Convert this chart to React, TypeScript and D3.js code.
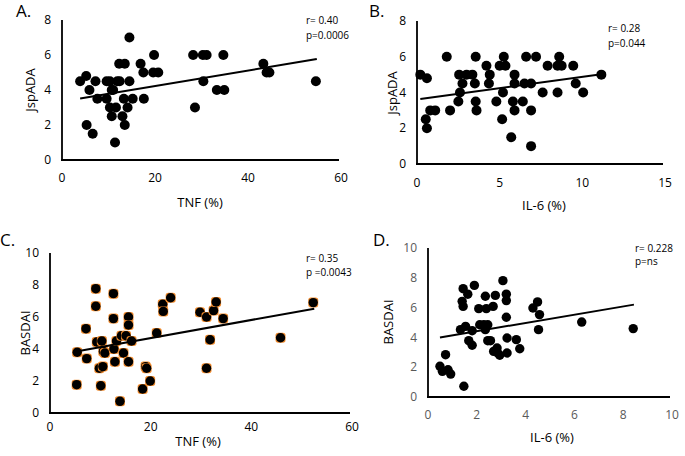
import React from "react";
import * as d3 from "d3";

// Panel A: TNF (%) vs JspADA
const tnfA = [3.9, 5.2, 5.9, 7.2, 7.6, 5.3, 6.6, 9.6, 9.6, 10.3, 10.7, 10.3, 11.0, 10.7, 11.6, 11.4, 11.9, 12.4, 12.3, 13.5, 13.0, 13.5, 13.3, 14.1, 14.5, 14.5, 15.2, 16.9, 17.5, 17.6, 19.8, 19.6, 20.7, 28.2, 28.6, 30.3, 31.1, 30.4, 33.3, 34.7, 34.9, 43.3, 44.0, 44.6, 54.6];
const jspA = [4.5, 4.8, 4.0, 4.5, 3.5, 2.0, 1.5, 4.5, 3.5, 4.5, 4.0, 3.0, 4.0, 2.5, 3.0, 1.0, 4.5, 4.5, 5.5, 5.5, 2.5, 2.0, 3.5, 3.0, 4.5, 7.0, 3.5, 5.5, 5.0, 3.5, 6.0, 5.0, 5.0, 6.0, 3.0, 6.0, 6.0, 4.5, 4.0, 6.0, 4.0, 5.5, 5.0, 5.0, 4.5];
const trendA = [[3.9, 3.52], [54.8, 5.77]];

// Panel B: IL-6 (%) vs JspADA
const il6B = [0.2, 0.6, 0.53, 0.6, 0.8, 1.1, 1.8, 2.0, 2.5, 2.6, 2.75, 2.55, 3.0, 3.35, 3.5, 3.55, 3.55, 3.6, 4.2, 4.4, 4.35, 4.8, 5.0, 5.25, 5.35, 5.2, 5.15, 5.7, 5.9, 5.9, 5.8, 5.9, 6.4, 6.5, 6.6, 6.9, 6.9, 6.9, 7.2, 7.6, 7.9, 8.5, 8.5, 8.6, 8.75, 9.45, 9.6, 10.05, 11.15];
const jspB = [5.0, 4.8, 2.5, 2.0, 3.0, 3.0, 6.0, 3.0, 3.5, 4.0, 4.5, 5.0, 5.0, 5.0, 4.5, 6.0, 3.5, 3.0, 5.5, 5.0, 4.5, 3.5, 5.5, 6.0, 5.5, 4.0, 2.5, 1.5, 5.0, 4.5, 3.5, 3.0, 3.5, 4.5, 6.0, 1.0, 3.0, 4.5, 6.0, 4.0, 5.5, 4.0, 5.5, 6.0, 5.5, 5.5, 4.5, 4.0, 5.0];
const trendB = [[0.2, 3.63], [11.15, 5.02]];

// Panel C: TNF (%) vs BASDAI
const tnfC = [5.4, 5.3, 7.15, 7.3, 9.1, 9.1, 9.3, 9.8, 10.1, 10.3, 10.6, 10.5, 10.9, 12.6, 12.6, 12.7, 12.9, 13.2, 13.9, 14.2, 14.6, 15.1, 15.6, 15.6, 15.6, 16.2, 18.4, 19.0, 19.2, 19.9, 21.2, 22.4, 22.5, 23.97, 29.8, 31.1, 31.1, 31.8, 32.5, 33.0, 34.4, 45.8, 52.3];
const basC = [3.8, 1.77, 5.27, 3.4, 7.77, 6.67, 4.44, 2.8, 1.7, 4.5, 3.85, 2.9, 3.75, 7.46, 5.9, 4.0, 3.2, 4.5, 0.73, 4.83, 3.75, 4.83, 6.0, 5.5, 3.2, 4.5, 1.5, 2.9, 2.8, 2.0, 5.0, 6.8, 6.35, 7.2, 6.3, 6.0, 2.8, 4.58, 6.4, 6.94, 5.9, 4.7, 6.9];
const trendC = [[5.2, 3.85], [52.5, 6.52]];

// Panel D: IL-6 (%) vs BASDAI
const il6D = [0.49, 0.59, 0.72, 0.82, 0.93, 1.33, 1.40, 1.44, 1.44, 1.47, 1.54, 1.63, 1.67, 1.81, 1.81, 1.90, 2.08, 2.12, 2.29, 2.35, 2.39, 2.35, 2.45, 2.45, 2.56, 2.67, 2.69, 2.76, 2.83, 2.86, 2.94, 3.07, 3.21, 3.21, 3.21, 3.24, 3.24, 3.62, 3.76, 4.30, 4.49, 4.57, 4.53, 6.30, 8.41];
const basD = [2.06, 1.72, 2.84, 1.83, 1.54, 4.52, 6.42, 7.27, 6.08, 0.72, 4.74, 6.9, 3.78, 3.47, 4.45, 7.49, 5.93, 4.85, 4.85, 4.52, 5.93, 6.76, 4.85, 3.78, 3.78, 6.08, 3.06, 6.82, 3.29, 2.95, 2.8, 7.81, 6.9, 6.47, 5.35, 2.95, 3.96, 3.85, 3.24, 5.97, 6.38, 5.53, 4.52, 5.03, 4.59];
const trendD = [[0.49, 4.0], [8.44, 6.2]];

const ticksA_x = [0, 20, 40, 60];
const ticksA_y = [0, 2, 4, 6, 8];
const ticksB_x = [0, 5, 10, 15];
const ticksB_y = [0, 2, 4, 6, 8];
const ticksC_x = [0, 20, 40, 60];
const ticksC_y = [0, 2, 4, 6, 8, 10];
const ticksD_x = [0, 2, 4, 6, 8, 10];
const ticksD_y = [0, 2, 4, 6, 8, 10];

const FONT = "'Open Sans', 'Liberation Sans', sans-serif";

type PanelProps = {
  xs: number[]; ys: number[]; trend: number[][];
  xDom: [number, number]; yDom: [number, number];
  xR: [number, number]; yR: [number, number];
  xTicks: number[]; yTicks: number[];
  xTickY: number; tickColor: string;
  label: string; labelPos: [number, number];
  xTitle: string; xTitlePos: [number, number];
  yTitle: string; yTitlePos: [number, number];
  ann: string[]; annPos: [number, number]; annGap: number;
  orange?: boolean; r: number;
};

function Panel(p: PanelProps) {
  const x = d3.scaleLinear().domain(p.xDom).range(p.xR);
  const y = d3.scaleLinear().domain(p.yDom).range(p.yR);
  const line = d3.line<number[]>().x((d) => x(d[0])).y((d) => y(d[1]));
  const x0 = x(p.xDom[0]);
  const y0 = y(p.yDom[0]);
  return (
    <g fontFamily={FONT}>
      <text x={p.labelPos[0]} y={p.labelPos[1]} fontSize={17} fill="#000">{p.label}</text>
      {p.yTicks.map((t) => (
        <text key={"y" + t} x={x0 - 11} y={y(t)} dy="0.35em" textAnchor="end" fontSize={12} fill={p.tickColor}>{t}</text>
      ))}
      {p.xTicks.map((t) => (
        <text key={"x" + t} x={x(t)} y={p.xTickY} dy="0.35em" textAnchor="middle" fontSize={12} fill={p.tickColor}>{t}</text>
      ))}
      <text x={p.xTitlePos[0]} y={p.xTitlePos[1]} dy="0.35em" textAnchor="middle" fontSize={13} fill="#000">{p.xTitle}</text>
      <text transform={`translate(${p.yTitlePos[0]},${p.yTitlePos[1]}) rotate(-90)`} dy="0.35em" textAnchor="middle" fontSize={13} fill="#000">{p.yTitle}</text>
      {p.ann.map((a, i) => (
        <text key={a} x={p.annPos[0]} y={p.annPos[1] + i * p.annGap} dy="0.35em" fontSize={10} fill="#000">{a}</text>
      ))}
      {p.xs.map((v, i) => (
        <g key={i}>
          {p.orange && (
            <rect x={x(v) - p.r} y={y(p.ys[i]) - p.r} width={p.r * 2} height={p.r * 2} rx={p.r * 0.55} fill="#f08a2c" />
          )}
          <circle cx={x(v)} cy={y(p.ys[i])} r={p.orange ? p.r - 0.3 : p.r} fill="#000" />
        </g>
      ))}
      <path d={line(p.trend) || ""} stroke="#000" strokeWidth={2} fill="none" />
      <line x1={x0} x2={x0} y1={p.yR[1]} y2={y0 + 1} stroke="#000" strokeWidth={1.8} />
      <line x1={x0 - 1} x2={p.xR[1] - 2} y1={y0} y2={y0} stroke="#000" strokeWidth={1.8} />
    </g>
  );
}

export default function App() {
  return (
    <svg width={685} height={456} style={{ position: "absolute", left: 0, top: 0, background: "#fff" }}>
      <rect width={685} height={456} fill="#fff" />
      <Panel xs={tnfA} ys={jspA} trend={trendA} xDom={[0, 60]} yDom={[0, 8]} xR={[62, 341]} yR={[160, 20]}
        xTicks={ticksA_x} yTicks={ticksA_y} xTickY={178} tickColor="#000"
        label="A." labelPos={[16, 17]} xTitle="TNF (%)" xTitlePos={[200, 202]} yTitle="JspADA" yTitlePos={[30, 90]}
        ann={["r= 0.40", "p=0.0006"]} annPos={[306, 20]} annGap={15} r={5} />
      <Panel xs={il6B} ys={jspB} trend={trendB} xDom={[0, 15]} yDom={[0, 8]} xR={[417, 665]} yR={[164, 21]}
        xTicks={ticksB_x} yTicks={ticksB_y} xTickY={183} tickColor="#000"
        label="B." labelPos={[369, 17]} xTitle="IL-6 (%)" xTitlePos={[544, 205]} yTitle="JspADA" yTitlePos={[392, 93]}
        ann={["r= 0.28", "p=0.044"]} annPos={[608, 28]} annGap={15} r={5} />
      <Panel xs={tnfC} ys={basC} trend={trendC} xDom={[0, 60]} yDom={[0, 10]} xR={[50, 352]} yR={[413, 253]}
        xTicks={ticksC_x} yTicks={ticksC_y} xTickY={427} tickColor="#000"
        label="C." labelPos={[0, 246]} xTitle="TNF (%)" xTitlePos={[198, 441]} yTitle="BASDAI" yTitlePos={[25, 333]}
        ann={["r= 0.35", "p =0.0043"]} annPos={[306, 258]} annGap={14} orange r={5} />
      <Panel xs={il6D} ys={basD} trend={trendD} xDom={[0, 10]} yDom={[0, 10]} xR={[428, 672]} yR={[397, 248]}
        xTicks={ticksD_x} yTicks={ticksD_y} xTickY={415} tickColor="#595959"
        label="D." labelPos={[373, 246]} xTitle="IL-6 (%)" xTitlePos={[552, 437]} yTitle="BASDAI" yTitlePos={[388, 322]}
        ann={["r= 0.228", "p=ns"]} annPos={[635, 248]} annGap={13} r={4.7} />
    </svg>
  );
}
